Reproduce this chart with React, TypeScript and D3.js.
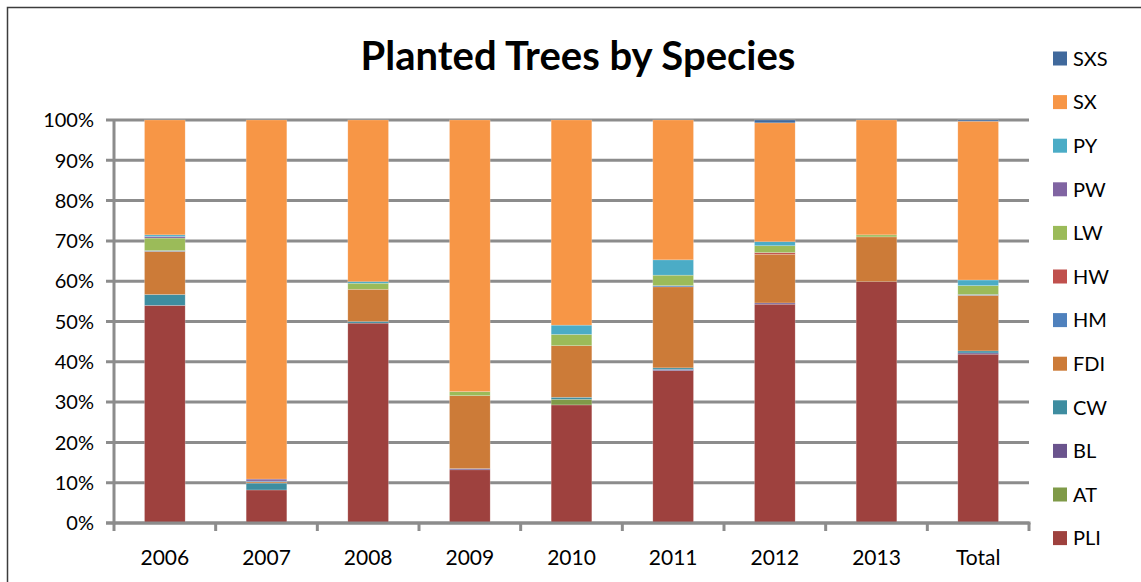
import * as React from 'react';
import * as d3 from 'd3';

const categories = ['2006', '2007', '2008', '2009', '2010', '2011', '2012', '2013', 'Total'];

// stacked bottom -> top
const species = ['PLI', 'AT', 'BL', 'CW', 'FDI', 'HM', 'HW', 'LW', 'PW', 'PY', 'SX', 'SXS'];

const PLI = [54.0, 8.2, 49.6, 13.2, 29.3, 37.8, 54.3, 59.9, 41.9];
const AT = [0, 0, 0, 0, 1.4, 0, 0, 0, 0];
const BL = [0, 0, 0, 0.3, 0, 0.3, 0.3, 0, 0.3];
const CW = [2.7, 1.7, 0.4, 0, 0.5, 0.4, 0, 0, 0.5];
const FDI = [10.7, 0.3, 8.0, 18.1, 12.8, 20.1, 12.1, 11.1, 13.8];
const HM = [0.2, 0.2, 0, 0, 0, 0.3, 0, 0, 0.2];
const HW = [0, 0, 0, 0, 0, 0, 0.4, 0, 0];
const LW = [3.1, 0, 1.5, 1.0, 2.8, 2.6, 1.7, 0.5, 2.2];
const PW = [0.4, 0.5, 0, 0, 0, 0, 0, 0, 0];
const PY = [0.4, 0, 0.4, 0, 2.3, 3.8, 1.0, 0, 1.4];
const SX = [28.5, 89.1, 40.1, 67.4, 50.9, 34.7, 29.5, 28.5, 39.4];
const SXS = [0, 0, 0, 0, 0, 0, 0.7, 0, 0.3];

const seriesValues: {[k: string]: number[]} = {PLI, AT, BL, CW, FDI, HM, HW, LW, PW, PY, SX, SXS};

const colors: {[k: string]: string} = {
  PLI: '#9E413E',
  AT: '#7F9A48',
  BL: '#6A548D',
  CW: '#3E8DA0',
  FDI: '#CC7B38',
  HM: '#4F81BD',
  HW: '#C0504D',
  LW: '#9BBB59',
  PW: '#8064A2',
  PY: '#4BACC6',
  SX: '#F79646',
  SXS: '#40699C'
};

const yTicks = [0, 10, 20, 30, 40, 50, 60, 70, 80, 90, 100];

const FONT = 'Lato, "Open Sans", sans-serif';

export default function App() {
  const width = 1141;
  const height = 582;
  const plot = {left: 114, right: 1029, top: 120, bottom: 523};

  const rows = categories.map((c, i) => {
    const r: any = {cat: c};
    species.forEach(s => (r[s] = seriesValues[s][i]));
    return r;
  });
  const stacked = d3.stack<any>().keys(species)(rows);

  const x = d3
    .scaleBand<string>()
    .domain(categories)
    .range([plot.left, plot.right])
    .paddingInner(0.6)
    .paddingOuter(0.3);
  const y = d3.scaleLinear().domain([0, 100]).range([plot.bottom, plot.top]);

  const boundaries = d3.range(categories.length + 1).map(i => plot.left + (plot.right - plot.left) * (i / categories.length));
  const gridColor = '#8c8c8c';

  return (
    <div style={{position: 'absolute', left: 0, top: 0}}>
      <svg width={width} height={height} style={{display: 'block', background: '#fff'}}>
        <rect x={7.5} y={7.5} width={1160} height={600} fill="#fff" stroke="#3c3c3c" strokeWidth={1.5} />
        <text x={578} y={70} textAnchor="middle" fontFamily={FONT} fontWeight="bold" fontSize={40} fill="#000">
          Planted Trees by Species
        </text>

        {/* gridlines */}
        {yTicks.map(t => (
          <line key={'g' + t} x1={106} x2={plot.right} y1={y(t)} y2={y(t)} stroke={gridColor} strokeWidth={3} />
        ))}
        {yTicks.map(t => (
          <text key={'yl' + t} x={94} y={y(t)} dy="0.36em" textAnchor="end" fontFamily={FONT} fontSize={20} fill="#000">
            {t + '%'}
          </text>
        ))}

        {/* bars */}
        {stacked.map(layer => (
          <g key={layer.key} fill={colors[layer.key]}>
            {layer.map((d, i) =>
              d[1] - d[0] > 0 ? (
                <rect
                  key={i}
                  x={x(categories[i])}
                  y={y(d[1])}
                  width={x.bandwidth()}
                  height={y(d[0]) - y(d[1])}
                  stroke="#fff"
                  strokeOpacity={0.35}
                  strokeWidth={0.6}
                />
              ) : null
            )}
          </g>
        ))}

        {/* axes */}
        <line x1={plot.left} x2={plot.left} y1={plot.top} y2={plot.bottom + 1.5} stroke={gridColor} strokeWidth={3} />
        <line x1={106} x2={plot.right + 1.5} y1={plot.bottom} y2={plot.bottom} stroke={gridColor} strokeWidth={3} />
        {boundaries.map((bx, i) => (
          <line key={'t' + i} x1={bx} x2={bx} y1={plot.bottom} y2={plot.bottom + 8} stroke={gridColor} strokeWidth={3} />
        ))}
        {categories.map(c => (
          <text
            key={'xl' + c}
            x={(x(c) as number) + x.bandwidth() / 2}
            y={565}
            textAnchor="middle"
            fontFamily={FONT}
            fontSize={21}
            fill="#000">
            {c}
          </text>
        ))}

        {/* legend */}
        {species
          .slice()
          .reverse()
          .map((s, i) => {
            const cy = 58.5 + i * 43.6;
            return (
              <g key={'lg' + s}>
                <rect x={1053} y={cy - 7} width={14} height={14} fill={colors[s]} />
                <text x={1073} y={cy} dy="0.36em" fontFamily={FONT} fontSize={20} fill="#000">
                  {s}
                </text>
              </g>
            );
          })}
      </svg>
    </div>
  );
}
